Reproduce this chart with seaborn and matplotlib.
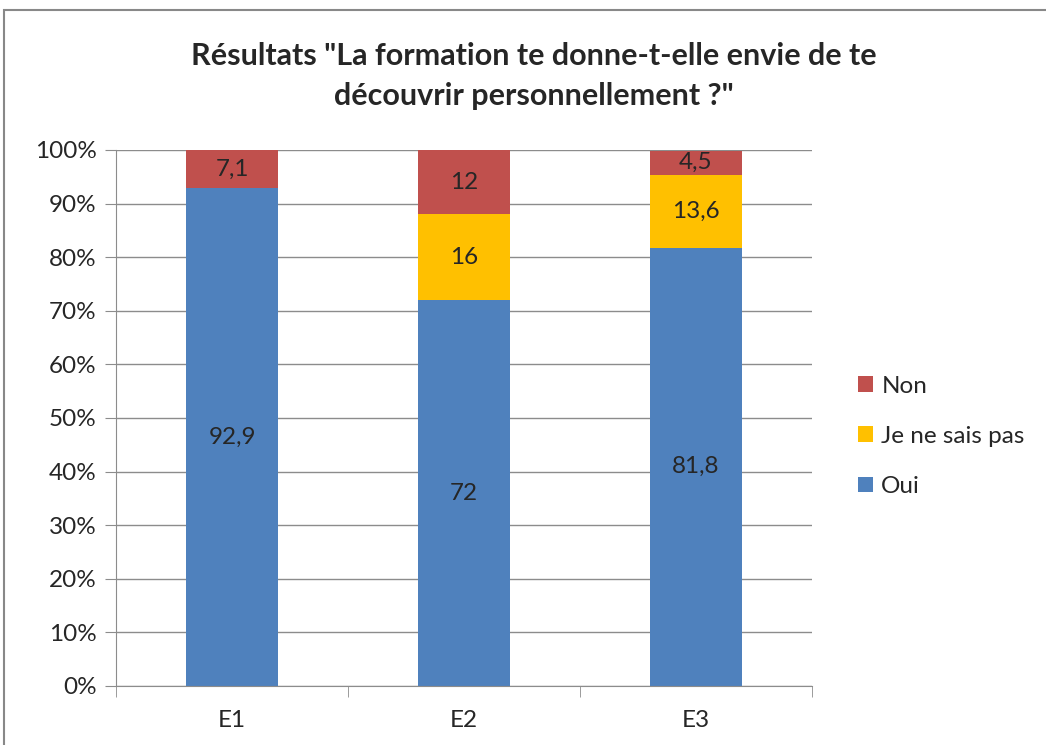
import numpy as np
import matplotlib.pyplot as plt
import matplotlib.patches as mpatches
from matplotlib.ticker import PercentFormatter
import seaborn as sbn

# data
groupes = ["E1", "E2", "E3"]
oui = [92.9, 72, 81.8]
ne_sais_pas = [0, 16, 13.6]
non = [7.1, 12, 4.5]
etiquettes_oui = ["92,9", "72", "81,8"]
etiquettes_nsp = ["", "16", "13,6"]
etiquettes_non = ["7,1", "12", "4,5"]

bleu = "#4F81BD"
jaune = "#FFC000"
rouge = "#C0504D"

sbn.set_style("white")
plt.rcParams['font.family'] = ['Lato', 'DejaVu Sans']

fig = plt.figure(figsize=(10.46, 7.45), dpi=100)
ax = fig.add_axes([0.1109, 0.0792, 0.6654, 0.7195])

bas_nsp = np.array(oui)
bas_non = bas_nsp + np.array(ne_sais_pas)

sbn.barplot(x=groupes, y=oui, color=bleu, width=0.4, ax=ax, saturation=1,
            linewidth=0, label="Oui")
sbn.barplot(x=groupes, y=ne_sais_pas, bottom=bas_nsp, color=jaune, width=0.4, ax=ax,
            saturation=1, linewidth=0, label="Je ne sais pas")
sbn.barplot(x=groupes, y=non, bottom=bas_non, color=rouge, width=0.4, ax=ax,
            saturation=1, linewidth=0, label="Non")

# value labels centred in each segment
taille = 17.5
for i in range(len(groupes)):
    ax.text(i, oui[i] / 2, etiquettes_oui[i], ha="center", va="center", fontsize=taille)
    if etiquettes_nsp[i]:
        ax.text(i, bas_nsp[i] + ne_sais_pas[i] / 2, etiquettes_nsp[i], ha="center",
                va="center", fontsize=taille)
    ax.text(i, bas_non[i] + non[i] / 2, etiquettes_non[i], ha="center", va="center", fontsize=taille)

ax.set_xlim(-0.5, 2.5)
ax.set_ylim(0, 100)
ax.set_yticks(np.arange(0, 101, 10))
ax.yaxis.set_major_formatter(PercentFormatter(decimals=0))
ax.set_xticks([0, 1, 2])
ax.set_xticklabels(groupes)
ax.set_xticks([-0.5, 0.5, 1.5, 2.5], minor=True)
ax.yaxis.grid(True, color="#8c8c8c", linewidth=1)
ax.set_axisbelow(True)
for s in ["top", "right"]:
    ax.spines[s].set_visible(False)
for s in ["left", "bottom"]:
    ax.spines[s].set_color("#8c8c8c")
ax.tick_params(axis="y", which="major", left=True, length=8, color="#8c8c8c", labelsize=taille, pad=6)
ax.tick_params(axis="x", which="major", bottom=False, labelsize=taille, pad=14)
ax.tick_params(axis="x", which="minor", bottom=True, length=8, color="#8c8c8c")
ax.set_xlabel("")

handles, labels = ax.get_legend_handles_labels()
ax.legend(handles[::-1], labels[::-1], loc="center left", bbox_to_anchor=(1.035, 0.466),
          frameon=False, fontsize=taille, handlelength=0.6, handleheight=0.6,
          handletextpad=0.35, labelspacing=1.2)

fig.text(0.51, 0.898, "Résultats \"La formation te donne-t-elle envie de te\ndécouvrir personnellement ?\"",
         ha="center", va="center", fontsize=22, fontweight="bold", linespacing=1.5)

fig.patches.append(mpatches.Rectangle((0.004, -0.05), 1.1, 1.036, transform=fig.transFigure,
                                      fill=False, edgecolor="#888888", linewidth=1.5))

fig.savefig("out.png", dpi=100)
